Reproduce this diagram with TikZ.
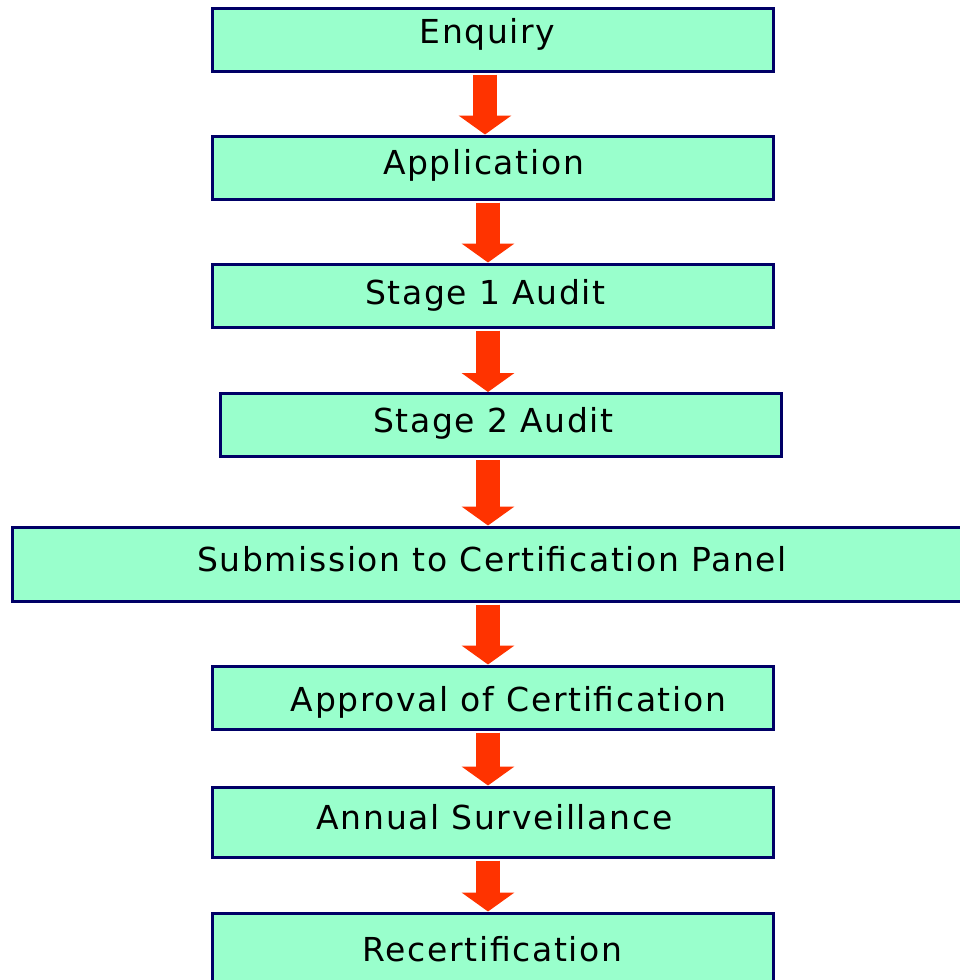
\documentclass[tikz,border=0pt]{standalone}
\usepackage{fontspec}
\setmainfont[LetterSpace=5]{DejaVu Sans}
\usetikzlibrary{arrows.meta}
\definecolor{boxfill}{HTML}{99FFCC}
\definecolor{boxline}{HTML}{000066}
\definecolor{flowred}{HTML}{FF3300}
\begin{document}
\begin{tikzpicture}[x=1pt,y=-1pt,line join=miter,font=\fontsize{33}{36}\selectfont,
		stagebox/.style={draw=boxline,fill=boxfill,line width=3pt,rectangle,minimum width=561pt,minimum height=63pt,inner sep=0pt,text height=25pt,text depth=11pt},
		flow/.style={draw=flowred,line width=24pt,line cap=butt,-{Triangle[width=52pt,length=19pt]}}]
		\useasboundingbox (0,0) rectangle (960,980);
		\node[stagebox] (enq) at (492.5,39.5) {\hspace*{-10pt}\raisebox{3pt}{Enquiry}};
		\node[stagebox] (app) at (492.5,167.5) {\hspace*{-18pt}Application};
		\node[stagebox] (st1) at (492.5,295.5) {\hspace*{-14pt}\raisebox{-2pt}{Stage 1 Audit}};
		\node[stagebox] (st2) at (500.5,425) {\hspace*{-14pt}Stage 2 Audit};
		\node[stagebox,minimum width=960pt,minimum height=74pt] (sub) at (492,564) {Submission to Certification Panel};
		\node[stagebox] (apr) at (492.5,697.5) {\hspace*{32pt}\raisebox{-7pt}{Approval of Certification}};
		\node[stagebox,minimum height=70pt] (ann) at (492.5,822) {\hspace*{4pt}Annual Surveillance};
		\node[stagebox,minimum height=74pt] (rec) at (492.5,950) {\raisebox{-4pt}{Recertification}};
		% arrows between the stages
		\foreach \a/\b/\x in {enq/app/485,app/st1/488,st1/st2/488,st2/sub/488,sub/apr/488,apr/ann/488,ann/rec/488}
		\draw[flow] ([yshift=-2pt]\a.south -| \x,0) -- (\b.north -| \x,0);
	\end{tikzpicture}
\end{document}
